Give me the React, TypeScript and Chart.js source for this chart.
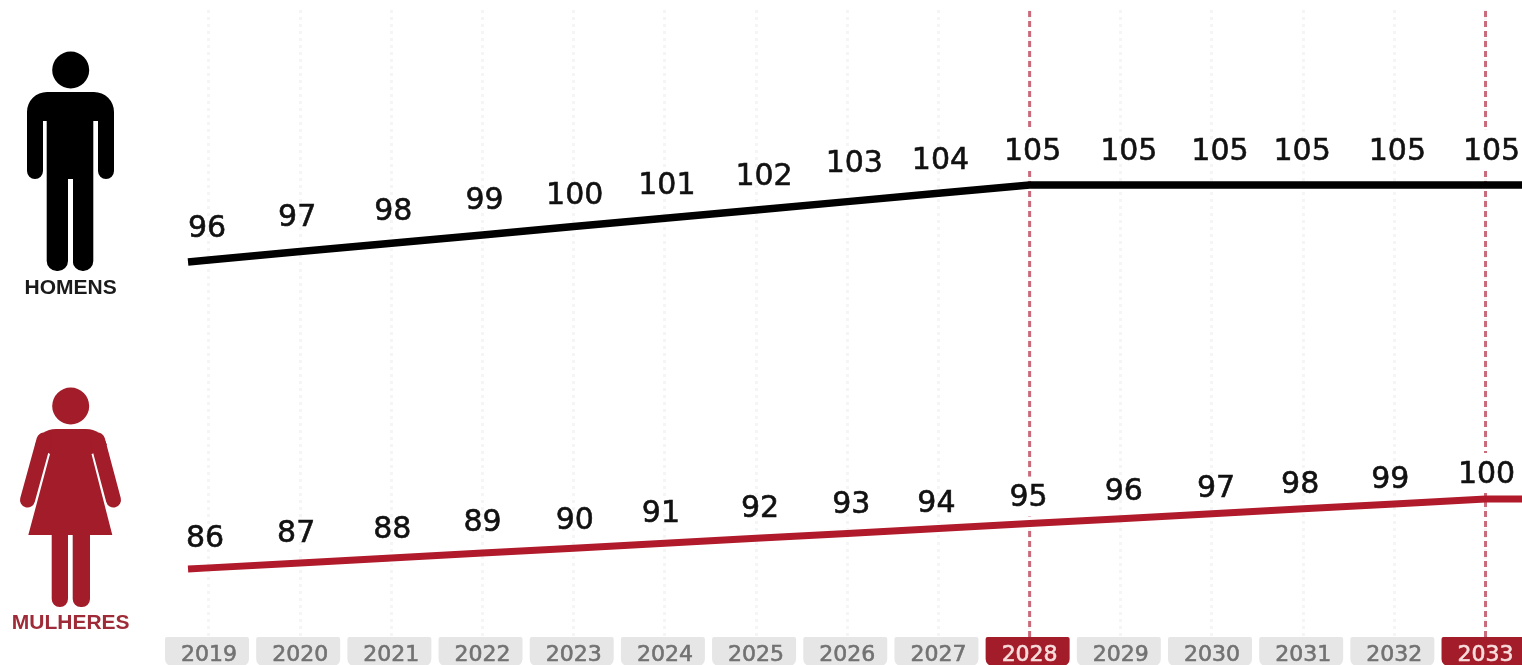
import { useEffect, useRef } from "react";
import { Chart, registerables } from "chart.js";

Chart.register(...registerables);

const years = [2019, 2020, 2021, 2022, 2023, 2024, 2025, 2026, 2027, 2028, 2029, 2030, 2031, 2032, 2033];
const menValues = [96, 97, 98, 99, 100, 101, 102, 103, 104, 105, 105, 105, 105, 105, 105];
const womenValues = [86, 87, 88, 89, 90, 91, 92, 93, 94, 95, 96, 97, 98, 99, 100];
const milestoneYears = [2028, 2033];

// The lines run a little past the first and last year on both sides.
const leadInYear = 2018.77;
const runOutYear = 2033.4;
const menLeadIn = 95.75;
const womenLeadIn = 85.75;

// Hand placement of the value labels relative to their points.
const menLabelDx = [-2, -3, 2, 2, 1, 2, 8, 7, 2, 3, 8, 8, -1, 3, 6];
const menLabelDy = [-33, -35, -33, -36, -32, -34, -35, -39, -34, -35, -35, -35, -35, -35, -35];
const womenLabelDx = [-4, -4, 1, 0, 1, -4, 4, 4, -2, -1, 3, 4, -3, -4, 1];
const womenLabelDy = [-31, -31, -30, -32, -29, -31, -31, -30, -26, -27, -28, -27, -26, -26, -26];

const BLACK = "#000000";
const RED = "#b01a2b";
const ICON_RED = "#a31c2a";
const CHIP_GREY = "#e6e6e6";
const CHIP_TEXT = "#727272";

function drawMan(ctx: CanvasRenderingContext2D) {
  ctx.fillStyle = BLACK;
  ctx.beginPath();
  ctx.arc(70.7, 70, 18.5, 0, Math.PI * 2);
  ctx.fill();
  ctx.beginPath();
  ctx.roundRect(27, 92, 87, 29, [20, 20, 0, 0]);
  ctx.roundRect(27, 115, 16, 64, [0, 0, 8, 8]);
  ctx.roundRect(98, 115, 16, 64, [0, 0, 8, 8]);
  ctx.rect(46.7, 115, 46.6, 66);
  ctx.roundRect(46.7, 175, 21.3, 96, [0, 0, 10, 10]);
  ctx.roundRect(72.7, 175, 20.6, 96, [0, 0, 10, 10]);
  ctx.fill();
  ctx.clearRect(68, 179, 4.7, 92);
  ctx.font = "bold 21px 'Liberation Sans'";
  ctx.textAlign = "center";
  ctx.textBaseline = "middle";
  ctx.fillStyle = "#1a1a1a";
  ctx.fillText("HOMENS", 70.7, 288);
}

function drawWoman(ctx: CanvasRenderingContext2D) {
  ctx.fillStyle = ICON_RED;
  ctx.strokeStyle = ICON_RED;
  ctx.beginPath();
  ctx.arc(70.7, 406, 18.5, 0, Math.PI * 2);
  ctx.fill();
  // Shoulders
  ctx.beginPath();
  ctx.moveTo(35, 445);
  ctx.quadraticCurveTo(41, 429, 56, 429);
  ctx.lineTo(86, 429);
  ctx.quadraticCurveTo(101, 429, 107, 445);
  ctx.lineTo(92, 454);
  ctx.lineTo(50, 454);
  ctx.closePath();
  ctx.fill();
  // Dress
  ctx.beginPath();
  ctx.moveTo(52, 430);
  ctx.lineTo(90, 430);
  ctx.lineTo(91.5, 454);
  ctx.lineTo(112.3, 535);
  ctx.lineTo(28.3, 535);
  ctx.lineTo(50, 454);
  ctx.closePath();
  ctx.fill();
  // Arms
  ctx.lineCap = "round";
  ctx.lineWidth = 15;
  ctx.beginPath();
  ctx.moveTo(44, 440);
  ctx.lineTo(27.5, 500);
  ctx.moveTo(97.5, 440);
  ctx.lineTo(113.5, 500);
  ctx.stroke();
  // Legs
  ctx.beginPath();
  ctx.roundRect(51.7, 530, 16.3, 77, [0, 0, 8, 8]);
  ctx.roundRect(72.7, 530, 17.3, 77, [0, 0, 8, 8]);
  ctx.fill();
  ctx.font = "bold 21px 'Liberation Sans'";
  ctx.textAlign = "center";
  ctx.textBaseline = "middle";
  ctx.fillStyle = "#9e2b37";
  ctx.fillText("MULHERES", 70.7, 623);
}

// Grey and red plates that sit behind the year labels.
const yearPlates = {
  id: "yearPlates",
  beforeDraw(chart: any) {
    const { ctx, scales } = chart;
    ctx.save();
    years.forEach((year) => {
      const x = scales.x.getPixelForValue(year);
      ctx.fillStyle = milestoneYears.includes(year) ? ICON_RED : CHIP_GREY;
      ctx.beginPath();
      ctx.roundRect(x - 44, 637, 84, 29, [2, 2, 7, 7]);
      ctx.fill();
    });
    ctx.restore();
  },
};

const figuresAndLabels = {
  id: "figuresAndLabels",
  afterDatasetsDraw(chart: any) {
    const { ctx, scales } = chart;
    ctx.save();
    drawMan(ctx);
    drawWoman(ctx);

    const valueLabel = (value: number, x: number, y: number) => {
      ctx.fillText(String(value), x, y);
      ctx.strokeText(String(value), x, y);
    };
    years.forEach((year, i) => {
      const x = scales.x.getPixelForValue(year);
      const menX = x + menLabelDx[i];
      const menY = scales.yMen.getPixelForValue(menValues[i]) + menLabelDy[i] + 2;
      const womenX = x + womenLabelDx[i];
      const womenY = scales.yWomen.getPixelForValue(womenValues[i]) + womenLabelDy[i] + 2;

      // The dashed milestone lines stop short of the labels they pass through,
      // leaving the data line below each label untouched.
      if (milestoneYears.includes(year)) {
        ctx.fillStyle = "#ffffff";
        ctx.fillRect(x - 10, menY - 22, 20, 40);
        ctx.fillRect(x - 10, womenY - 22, 20, 40);
      }

      ctx.font = "30px 'DejaVu Sans'";
      ctx.textAlign = "center";
      ctx.textBaseline = "middle";
      ctx.fillStyle = "#111111";
      ctx.strokeStyle = "#111111";
      ctx.lineWidth = 0.6;
      valueLabel(menValues[i], menX, menY);
      valueLabel(womenValues[i], womenX, womenY);
    });
    ctx.restore();
  },
};

export default function App() {
  const canvasRef = useRef<HTMLCanvasElement | null>(null);

  useEffect(() => {
    document.body.style.margin = "0";
    document.body.style.background = "#ffffff";
    const yMenMin = 50.74;
    const yMenMax = 126;
    const menSeries = [
      { x: leadInYear, y: menLeadIn },
      ...years.map((x, i) => ({ x, y: menValues[i] })),
      { x: runOutYear, y: menValues[menValues.length - 1] },
    ];
    const womenSeries = [
      { x: leadInYear, y: womenLeadIn },
      ...years.map((x, i) => ({ x, y: womenValues[i] })),
      { x: runOutYear, y: womenValues[womenValues.length - 1] },
    ];
    const milestones = milestoneYears.map((year) => ({
      type: "line" as const,
      xAxisID: "x",
      yAxisID: "yMen",
      data: [
        { x: year, y: yMenMin },
        { x: year, y: yMenMax },
      ],
      borderColor: "#c96b7a",
      borderWidth: 3,
      borderDash: [6, 4],
      pointRadius: 0,
    }));
    const chart = new Chart(canvasRef.current!, {
      type: "line",
      data: {
        datasets: [
          {
            label: "Homens",
            yAxisID: "yMen",
            data: menSeries,
            borderColor: BLACK,
            borderWidth: 7.5,
            pointRadius: 0,
            tension: 0,
          },
          {
            label: "Mulheres",
            yAxisID: "yWomen",
            data: womenSeries,
            borderColor: RED,
            borderWidth: 7,
            pointRadius: 0,
            tension: 0,
          },
          ...milestones,
        ],
      },
      options: {
        responsive: false,
        animation: false,
        layout: { padding: { top: 10, left: 0, right: 0, bottom: 0 } },
        plugins: { legend: { display: false }, tooltip: { enabled: false } },
        scales: {
          x: {
            type: "linear",
            min: 2016.708,
            max: 2033.4,
            afterBuildTicks(scale: any) {
              scale.ticks = years.map((value) => ({ value }));
            },
            afterFit(scale: any) {
              scale.height = 28;
            },
            border: { display: false, dash: [3, 4] },
            grid: {
              color: "rgba(230,230,230,0.4)",
              lineWidth: 3,
              drawTicks: false,
            },
            ticks: {
              autoSkip: false,
              maxRotation: 0,
              padding: 5,
              font: { family: "'DejaVu Sans'", size: 22 },
              color: (c: any) => (milestoneYears.includes(c.tick?.value) ? "#f7dedd" : CHIP_TEXT),
              textStrokeColor: (c: any) => (milestoneYears.includes(c.tick?.value) ? "#f7dedd" : CHIP_TEXT),
              textStrokeWidth: 0.6,
              callback: (v: any) => String(v),
            },
          },
          yMen: { display: false, min: yMenMin, max: yMenMax },
          yWomen: { display: false, min: 71.95, max: 199.39 },
        },
      },
      plugins: [yearPlates, figuresAndLabels],
    } as any);
    return () => chart.destroy();
  }, []);

  return (
    <div style={{ position: "absolute", left: 0, top: 0, width: 1522, height: 665, overflow: "hidden", background: "#fff" }}>
      <canvas ref={canvasRef} width={1522} height={665} style={{ display: "block" }} />
    </div>
  );
}
